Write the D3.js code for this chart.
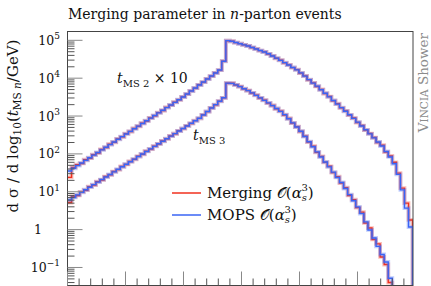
<!DOCTYPE html>
<html>
<head>
<meta charset="utf-8">
<script src="https://cdn.jsdelivr.net/npm/d3@7"></script>
<style>
  html, body { margin: 0; padding: 0; background: #fff; }
  svg { display: block; }
  text { font-family: "DejaVu Serif", "Liberation Serif", serif; fill: #111; }
</style>
</head>
<body>
<div id="container"></div>
<script>
const WIDTH = 431;
const HEIGHT = 286;
const LEFT = 67.5, RIGHT = 413, TOP = 31.5, BOTTOM = 285.5;

// bins in units of the major x tick (log10 scale, labels not shown)
const BIN_WIDTH = 0.07;
const X_MAX = 5.957;
const X_MAJOR = [0, 1, 2, 3, 4, 5];

// upper histograms are t_MS2 x 10, lower are t_MS3
const upperMerging = [24, 44, 52, 56, 70, 77, 95, 106, 131, 148, 180, 203, 250, 282, 342, 390, 470, 537, 645, 742, 890, 1020, 1230, 1400, 1690, 1940, 2330, 2680, 3210, 3790, 4630, 5450, 6680, 7850, 9600, 11300, 13800, 16300, 28300, 97500, 94600, 87000, 81800, 75600, 71200, 64500, 59300, 53300, 49500, 43600, 38800, 33500, 29900, 25400, 22500, 19000, 16800, 13600, 11500, 9000, 7500, 6050, 5020, 3940, 3270, 2540, 2110, 1640, 1370, 1060, 885, 675, 560, 424, 345, 270, 200, 170, 112, 88, 60, 31, 12.5, 5.0, 1.8];
const upperMops = [35.5, 41.7, 48.9, 57.4, 67.4, 79.1, 92.9, 109, 128, 150, 176, 207, 244, 286, 336, 394, 462, 543, 637, 750, 881, 1030, 1210, 1420, 1670, 1960, 2300, 2700, 3180, 3820, 4590, 5500, 6610, 7910, 9510, 11400, 13700, 16400, 28000, 98000, 94200, 87400, 81300, 76000, 70700, 64900, 58900, 53700, 49100, 44000, 38500, 33800, 29600, 25700, 22200, 19200, 16600, 13800, 11300, 9150, 7390, 6150, 4940, 4000, 3210, 2580, 2070, 1670, 1340, 1080, 867, 689, 546, 433, 338, 265, 206, 161, 116, 83, 55, 28.7, 11.2, 3.7, 1.17];
const lowerMerging = [5.2, 7.5, 8.0, 9.9, 11.0, 13.6, 15.0, 18.5, 20.5, 25.2, 28.0, 34.2, 38.5, 46.5, 52.6, 63.0, 72.0, 86.3, 98.0, 118, 134, 160, 183, 219, 249, 298, 341, 407, 466, 553, 638, 755, 868, 1080, 1310, 1640, 1980, 2480, 3010, 7350, 7340, 6620, 6010, 5240, 4720, 4050, 3550, 2990, 2620, 2200, 1900, 1560, 1350, 1070, 860, 650, 522, 390, 294, 205, 160, 110, 86, 60, 47, 32, 25, 17, 12.8, 8.0, 6.2, 3.8, 2.9, 1.5, 1.1, 0.55, 0.42, 0.19, 0.12, 0.04, 0, 0, 0, 0, 0];
const lowerMops = [6.05, 7.08, 8.26, 9.66, 11.3, 13.2, 15.4, 18.0, 21.0, 24.5, 28.6, 33.5, 39.2, 45.6, 53.4, 62.2, 72.8, 85.1, 99.3, 116, 136, 158, 185, 216, 252, 295, 344, 403, 470, 548, 643, 748, 875, 1070, 1320, 1630, 2000, 2460, 3030, 7400, 7300, 6660, 5970, 5280, 4680, 4090, 3510, 3020, 2590, 2230, 1880, 1580, 1330, 1090, 847, 659, 514, 396, 288, 210, 154, 113, 82.8, 61.1, 45.3, 33.0, 23.9, 17.6, 12.2, 8.4, 5.8, 4.0, 2.65, 1.6, 0.98, 0.6, 0.36, 0.22, 0.14, 0.052, 0, 0, 0, 0, 0];

const Y_MAJOR = [1e-1, 1, 1e1, 1e2, 1e3, 1e4, 1e5];
const Y_BASE = ["10", "1", "10", "10", "10", "10", "10"];
const Y_EXP = ["\u22121", null, "1", "2", "3", "4", "5"];

const RED = '#f0301e';
const BLUE = '#3a64f5';

const svg = d3.select('#container')
  .append('svg')
  .attr('width', WIDTH)
  .attr('height', HEIGHT);

const x = d3.scaleLinear().domain([0, X_MAX]).range([LEFT, RIGHT]);
const y = d3.scaleLog().domain([Math.pow(10, -1.476), Math.pow(10, 5.233)]).range([BOTTOM, TOP]);

svg.append('clipPath').attr('id', 'plotclip')
  .append('rect')
  .attr('x', LEFT).attr('y', TOP)
  .attr('width', RIGHT - LEFT).attr('height', BOTTOM - TOP);

// step path for a histogram, zero bins fall below the frame
function stepPoints(values) {
  const pts = [];
  values.forEach((v, i) => {
    const yy = v > 0 ? y(v) : BOTTOM + 10;
    pts.push([x(i * BIN_WIDTH), yy]);
    pts.push([x((i + 1) * BIN_WIDTH), yy]);
  });
  pts.push([x(values.length * BIN_WIDTH), BOTTOM + 10]);
  return pts;
}

const line = d3.line();
const g = svg.append('g').attr('clip-path', 'url(#plotclip)');

function drawHist(values, color) {
  const d = line(stepPoints(values));
  g.append('path')
    .attr('d', d)
    .style('fill', 'none')
    .style('stroke', color)
    .style('stroke-opacity', 0.3)
    .style('stroke-width', 3.8);
  g.append('path')
    .attr('d', d)
    .style('fill', 'none')
    .style('stroke', color)
    .style('stroke-width', 1.4);
}

drawHist(upperMerging, RED);
drawHist(lowerMerging, RED);
drawHist(upperMops, BLUE);
drawHist(lowerMops, BLUE);

// frame
svg.append('rect')
  .attr('x', LEFT).attr('y', TOP)
  .attr('width', RIGHT - LEFT).attr('height', BOTTOM - TOP)
  .style('fill', 'none')
  .style('stroke', '#444')
  .style('stroke-width', 1);

// y ticks
const yMinor = [];
for (let e = -2; e <= 5; e++) {
  for (let k = 2; k <= 9; k++) {
    const v = k * Math.pow(10, e);
    if (v > y.domain()[0] && v < y.domain()[1]) yMinor.push(v);
  }
}
svg.append('g').selectAll('line').data(yMinor).join('line')
  .attr('x1', LEFT).attr('x2', LEFT + 7)
  .attr('y1', d => y(d)).attr('y2', d => y(d))
  .style('stroke', '#555');
svg.append('g').selectAll('line').data(Y_MAJOR).join('line')
  .attr('x1', LEFT).attr('x2', LEFT + 15)
  .attr('y1', d => y(d)).attr('y2', d => y(d))
  .style('stroke', '#888');

const yLab = svg.append('g').selectAll('text').data(Y_MAJOR).join('text')
  .attr('x', (d, i) => Y_EXP[i] ? 60 : 42)
  .attr('y', d => y(d) + 4.5)
  .attr('text-anchor', 'end')
  .style('font-size', '12.5px');
yLab.append('tspan').text((d, i) => Y_BASE[i]);
yLab.each(function(d, i) {
  if (!Y_EXP[i]) return;
  d3.select(this).append('tspan')
    .attr('dy', -5.5)
    .style('font-size', '9px')
    .text(Y_EXP[i]);
});

// x ticks
const xMinor = d3.range(0, X_MAX, 0.2).filter(v => Math.abs(v - Math.round(v)) > 0.01);
svg.append('g').selectAll('line').data(xMinor).join('line')
  .attr('x1', d => x(d)).attr('x2', d => x(d))
  .attr('y1', BOTTOM).attr('y2', BOTTOM - 7)
  .style('stroke', '#555');
svg.append('g').selectAll('line').data(X_MAJOR).join('line')
  .attr('x1', d => x(d)).attr('x2', d => x(d))
  .attr('y1', BOTTOM).attr('y2', BOTTOM - 14)
  .style('stroke', '#888');

// title
svg.append('text')
  .attr('x', 68).attr('y', 19)
  .style('font-size', '14px')
  .html('Merging parameter in <tspan font-style="italic">n</tspan>-parton events');

// y axis label
const yl = svg.append('text')
  .attr('transform', 'translate(18,126) rotate(-90)')
  .attr('text-anchor', 'middle')
  .style('font-size', '15px');
yl.append('tspan').text('d \u03C3 / d log');
yl.append('tspan').attr('dy', 3).style('font-size', '10.5px').text('10');
yl.append('tspan').attr('dy', -3).text('(');
yl.append('tspan').style('font-style', 'italic').text('t');
yl.append('tspan').attr('dy', 3).style('font-size', '10.5px').text('MS ');
yl.append('tspan').style('font-size', '10.5px').style('font-style', 'italic').text('n');
yl.append('tspan').attr('dy', -3).text('/GeV)');

// side label
const side = svg.append('text')
  .attr('transform', 'translate(428,33) rotate(-90)')
  .attr('text-anchor', 'end')
  .style('font-size', '13.5px')
  .style('fill', '#8c8c8c');
side.append('tspan').style('fill', '#8c8c8c').text('V');
side.append('tspan').style('fill', '#8c8c8c').style('font-size', '10.5px').text('INCIA');
side.append('tspan').style('fill', '#8c8c8c').text(' Shower');

// curve annotations
const a1 = svg.append('text').attr('x', 117).attr('y', 83).style('font-size', '14px');
a1.append('tspan').style('font-style', 'italic').text('t');
a1.append('tspan').attr('dy', 4).style('font-size', '10px').text('MS 2');
a1.append('tspan').attr('dy', -4).text(' \u00D7 10');

const a2 = svg.append('text').attr('x', 193).attr('y', 140).style('font-size', '14px');
a2.append('tspan').style('font-style', 'italic').text('t');
a2.append('tspan').attr('dy', 4).style('font-size', '10px').text('MS 3');

// legend
const legend = [
  { name: 'Merging', color: RED, y: 193 },
  { name: 'MOPS', color: BLUE, y: 215 }
];
legend.forEach(l => {
  svg.append('line')
    .attr('x1', 172).attr('x2', 201)
    .attr('y1', l.y).attr('y2', l.y)
    .style('stroke', l.color)
    .style('stroke-width', 1.5);
  const t = svg.append('text').attr('x', 207).attr('y', l.y + 5).style('font-size', '15px');
  t.append('tspan').text(l.name + ' ');
  t.append('tspan').text('\uD835\uDCAA(');
  t.append('tspan').style('font-style', 'italic').text('\u03B1');
  t.append('tspan').attr('dy', 3).style('font-size', '10px').style('font-style', 'italic').text('s');
  t.append('tspan').attr('dx', -5.5).attr('dy', -10.5).style('font-size', '10px').text('3');
  t.append('tspan').attr('dy', 7.5).text(')');
});
</script>
</body>
</html>
